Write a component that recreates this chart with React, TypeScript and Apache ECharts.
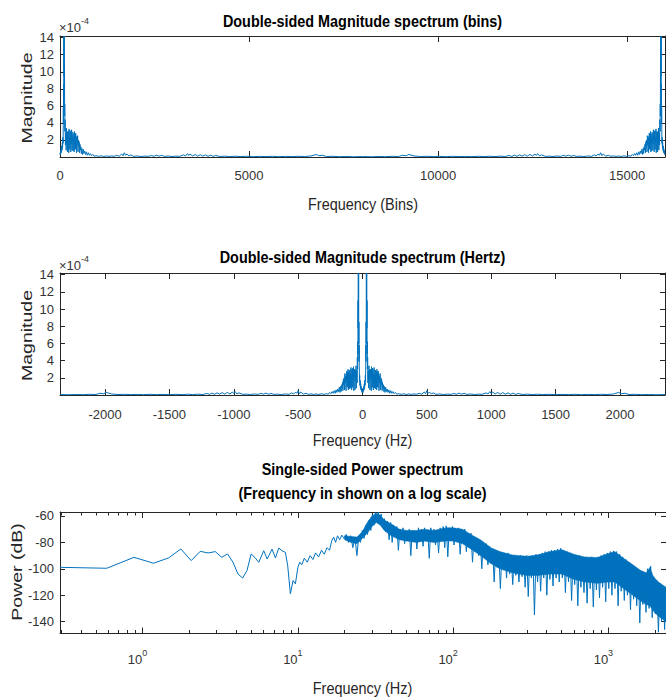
import React, { useEffect, useRef } from "react";
import * as echarts from "echarts";

// ---- acquisition parameters ----
const FS = 4700; // sampling rate, Hz
const NFFT = 16000; // number of bins
const DF = FS / NFFT; // bin width, Hz

// ---- single-sided magnitude profile: [frequency Hz, magnitude x1e-4] ----
const magPoints: [number, number][] = [
  [0, 0.25], [2, 0.5], [4, 0.3], [6, 0.8], [8, 0.45], [10, 1.0], [12, 0.6], [14, 1.3], [16, 0.8], [18, 1.7],
  [20, 1.1], [22, 2.3], [24, 1.6], [25, 3.4], [26, 5.8], [27, 3.9], [28, 8.5], [29, 6.0], [30, 14.2], [31, 9.5],
  [32, 13.6], [33, 14.2], [34, 7.8], [35, 11.0], [36, 4.8], [37, 6.2], [38, 3.0], [40, 4.4], [42, 1.4], [44, 2.8],
  [46, 1.9], [48, 0.8], [50, 3.4], [52, 1.6], [54, 2.2], [56, 2.9], [58, 0.6], [60, 3.0], [62, 2.1], [64, 2.9],
  [66, 1.2], [68, 0.5], [70, 3.3], [72, 1.8], [74, 2.2], [76, 0.9], [78, 3.1], [80, 2.0], [82, 3.0], [84, 0.6],
  [86, 2.4], [88, 1.5], [90, 3.2], [92, 2.6], [94, 0.8], [96, 2.3], [98, 1.9], [100, 2.9], [102, 0.7], [104, 2.1],
  [106, 1.6], [108, 2.7], [110, 0.6], [112, 3.0], [114, 2.2], [116, 1.0], [118, 2.6], [120, 0.9], [122, 2.8], [124, 1.8],
  [126, 2.4], [128, 0.5], [131, 2.2], [134, 1.4], [137, 2.5], [140, 0.6], [143, 2.0], [146, 1.2], [149, 1.8], [152, 0.5],
  [155, 1.5], [158, 0.8], [162, 1.2], [166, 0.4], [170, 1.0], [175, 0.3], [180, 0.9], [186, 0.4], [192, 0.7], [198, 0.3],
  [205, 0.6], [212, 0.2], [220, 0.5], [228, 0.2], [236, 0.4], [245, 0.15], [255, 0.3], [265, 0.1], [280, 0.15], [300, 0.08],
  [320, 0.14], [340, 0.06], [360, 0.12], [380, 0.07], [400, 0.13], [420, 0.08], [440, 0.2], [460, 0.1], [480, 0.35], [490, 0.15],
  [500, 0.5], [510, 0.2], [520, 0.35], [535, 0.12], [550, 0.25], [570, 0.08], [600, 0.12], [630, 0.06], [660, 0.1], [690, 0.08],
  [710, 0.18], [730, 0.08], [750, 0.22], [770, 0.1], [790, 0.2], [810, 0.07], [840, 0.12], [870, 0.06], [900, 0.1], [930, 0.08],
  [960, 0.25], [975, 0.12], [990, 0.4], [1000, 0.18], [1010, 0.35], [1030, 0.12], [1050, 0.3], [1070, 0.1], [1090, 0.28], [1110, 0.1],
  [1130, 0.25], [1150, 0.08], [1170, 0.22], [1190, 0.07], [1210, 0.18], [1240, 0.06], [1280, 0.1], [1320, 0.05], [1360, 0.09], [1400, 0.05],
  [1450, 0.08], [1500, 0.04], [1550, 0.07], [1600, 0.05], [1650, 0.08], [1700, 0.04], [1750, 0.07], [1800, 0.05], [1850, 0.08], [1900, 0.06],
  [1950, 0.12], [1990, 0.3], [2010, 0.15], [2040, 0.2], [2070, 0.06], [2120, 0.08], [2170, 0.04], [2220, 0.06], [2280, 0.03], [2350, 0.05],
];

// ---- single-sided power spectrum: [frequency Hz, power dB] ----
const powerPoints: [number, number][] = [
  [0.294, -98.9], [0.588, -99.6], [0.881, -91.3], [1.175, -95.8], [1.469, -91.8], [1.763, -85.0], [2.056, -93.8], [2.35, -86.8],
  [2.644, -88.0], [2.938, -87.0], [3.231, -91.3], [3.525, -88.8], [3.819, -95.0], [4.113, -103.9], [4.406, -107.0], [4.7, -101.4],
  [5.0, -88.8], [5.3, -91.5], [5.6, -95.1], [6.03, -86.3], [6.34, -92.6], [6.82, -85.1], [7.17, -91.8], [7.53, -84.3],
  [7.91, -86.3], [8.31, -87.6], [8.6, -97.6], [8.95, -118.9], [9.31, -108.9], [9.64, -111.4], [10.0, -98.9], [10.3, -95],
  [10.6, -97], [11.0, -92], [11.5, -95], [12.0, -90], [12.5, -93], [13.0, -88], [13.6, -91], [14.2, -86],
  [14.8, -89], [15.4, -84], [16.0, -86], [16.5, -79], [17.0, -76], [17.5, -80],
  [18, -75], [18.6, -78], [19.2, -74.5], [19.8, -77], [20.5, -74], [21.2, -80], [21.9, -75], [22.6, -84], [23.3, -76], [24.0, -90],
  [24.6, -77], [25.3, -80], [26.0, -71], [26.7, -77], [27.4, -67], [28.1, -74], [28.8, -63], [29.5, -71], [30.2, -59], [30.9, -67],
  [31.6, -57.5], [32.3, -64], [33.0, -57], [33.7, -66], [34.4, -58.5], [35.2, -69], [36.0, -62], [36.9, -72], [37.8, -64], [38.7, -78],
  [39.6, -65], [40.5, -80], [41.4, -67], [42.4, -74], [43.4, -68], [44.4, -86], [45.4, -70], [46.5, -77], [47.6, -69], [48.7, -81],
  [49.8, -71], [51, -76], [52.2, -70], [53.4, -90], [54.6, -71], [55.9, -79], [57.2, -72], [58.4, -85], [59.8, -69], [61.2, -77],
  [62.6, -70], [64, -83], [65.5, -69], [67, -79], [68.6, -71], [70.2, -92], [71.8, -69], [73.5, -77], [75.2, -70], [77, -82],
  [78.8, -72], [80.6, -88], [82.5, -69], [84.4, -78], [86.3, -68], [88.3, -84], [90.3, -67.5], [92.4, -91], [94.6, -69], [96.8, -78],
  [99, -68], [101.3, -82], [103.6, -70], [106, -77], [108.5, -69], [111, -89], [113.6, -71], [116.2, -79], [118.9, -70], [121.7, -87],
  [124.5, -73], [127.4, -81], [130.3, -73], [133.3, -95], [136.4, -76], [139.6, -86], [142.8, -77], [146.1, -90], [149.5, -79], [153, -100],
  [156.5, -80], [160.1, -92], [163.8, -81], [167.6, -97], [171.5, -83], [175.5, -96], [179.6, -85], [183.8, -110], [188, -86], [192.4, -99],
  [196.9, -87], [201.5, -115], [206.2, -88], [211, -101], [215.9, -89], [220.9, -107], [226, -88], [231.2, -104], [236.6, -90], [242.1, -112],
  [247.7, -90], [253.5, -105], [259.4, -91], [265.4, -110], [271.6, -90], [277.9, -106], [284.4, -91], [291, -114], [297.8, -90], [304.7, -121],
  [311.8, -91], [319, -107], [326.4, -90], [334, -135], [341.8, -89], [349.7, -110], [357.8, -89], [366.1, -117], [374.6, -88], [383.3, -107],
  [392.2, -87], [401.3, -120], [410.6, -87], [420.1, -108], [429.9, -86], [439.9, -113], [450.1, -86], [460.6, -107], [471.3, -85], [482.2, -110],
  [493.4, -84.5], [504.9, -107], [516.6, -86], [528.6, -118], [540.9, -87], [553.5, -110], [566.4, -88], [579.5, -124], [593, -89], [606.8, -112],
  [620.9, -90], [635.3, -128], [650.1, -90], [665.2, -114], [680.7, -91], [696.5, -118], [712.7, -91], [729.3, -126], [746.2, -92], [763.6, -115],
  [781.3, -91], [799.5, -129], [818.1, -92], [837.1, -116], [856.6, -91], [876.5, -122], [896.9, -90], [917.7, -114], [939.1, -89], [960.9, -125],
  [983.3, -88], [1006, -115], [1030, -87], [1054, -120], [1078, -86.5], [1103, -115], [1129, -87], [1155, -128], [1182, -89], [1209, -117],
  [1237, -91], [1266, -124], [1296, -93], [1326, -120], [1357, -95], [1388, -131], [1420, -97], [1453, -123], [1487, -99], [1522, -128],
  [1557, -101], [1593, -141], [1630, -102], [1668, -127], [1707, -103], [1747, -133], [1788, -100], [1829, -130], [1872, -98], [1915, -137],
  [1960, -106], [2006, -134], [2052, -109], [2100, -148], [2149, -111], [2199, -140], [2250, -113], [2302, -146], [2350, -114],
];

// ---- dense noise band of the power spectrum: [frequency Hz, upper dB, lower dB] ----
const bandPoints: [number, number, number][] = [
  [20, -75, -78], [22, -75.5, -80], [24, -76, -81], [26, -72, -77], [28, -65, -73], [30, -60, -68], [32, -58, -65],
  [34, -59.5, -67], [36, -63, -71], [40, -66, -75], [45, -70, -78], [50, -71, -79], [58, -71, -80], [65, -70, -79],
  [75, -71, -80], [90, -69, -79], [100, -69, -79], [115, -70, -81], [130, -74, -85], [150, -78, -90], [175, -84, -96],
  [200, -87, -100], [240, -89.5, -103], [300, -90.5, -105], [350, -89.5, -105], [420, -87, -104], [500, -85.5, -104],
  [600, -89, -108], [700, -91, -110], [850, -91.5, -111], [1000, -88.5, -110], [1100, -87, -110], [1250, -92, -115],
  [1400, -96, -119], [1600, -101, -124], [1750, -103, -127], [1850, -99, -128], [1950, -106, -132], [2100, -110, -136],
  [2350, -114, -140],
];

// ---- tick values ----
const binTicks = [0, 5000, 10000, 15000];
const hzTicks = [-2000, -1500, -1000, -500, 0, 500, 1000, 1500, 2000];
const magTicks = [2, 4, 6, 8, 10, 12, 14];
const dbTicks = [-140, -120, -100, -80, -60];
const decadeTicks = [0, 1, 2, 3];
const minorMultipliers = [2, 3, 4, 5, 6, 7, 8, 9];

const MAG_MAX = 14.2;
const DB_MIN = -149;
const DB_MAX = -57;

const FONT = "'Liberation Sans', Arial, Helvetica, sans-serif";
const AX = "#262626";
const LBL = "#333333";
const BLUE = "#0072BD";

const LMIN = Math.log10(DF);
const LMAX = Math.log10(FS / 2);

const minorTicks: number[] = [];
[-1, 0, 1, 2, 3].forEach((d) =>
  minorMultipliers.forEach((m) => {
    const v = Math.log10(m) + d;
    if (v > LMIN && v < LMAX) minorTicks.push(v);
  })
);

// double-sided tables built from the single-sided profile
const binsData: [number, number][] = [];
magPoints.forEach(([f, v]) => binsData.push([f / DF, v]));
for (let i = magPoints.length - 1; i >= 1; i--) binsData.push([NFFT - magPoints[i][0] / DF, magPoints[i][1]]);

const hzData: [number, number][] = [];
for (let i = magPoints.length - 1; i >= 1; i--) hzData.push([-magPoints[i][0], magPoints[i][1]]);
magPoints.forEach(([f, v]) => hzData.push([f, v]));

function axisBase(gridIndex: number, position: string, min: number, max: number, ticks: number[], tickLen: number, showLine: boolean) {
  return {
    type: "value",
    gridIndex,
    position,
    min,
    max,
    axisLine: { show: showLine, onZero: false, lineStyle: { color: AX, width: 1 } },
    axisTick: { show: true, inside: true, length: tickLen, customValues: ticks, lineStyle: { color: AX, width: 1 } },
    axisLabel: { show: false },
    splitLine: { show: false },
    minorTick: { show: false },
    minorSplitLine: { show: false },
  } as any;
}

function withLabels(axis: any, labels: number[], margin: number, extra: any = {}) {
  return {
    ...axis,
    axisLabel: { show: true, customValues: labels, margin, color: LBL, fontFamily: FONT, fontSize: 13, ...extra },
  };
}

const plain = (v: number) => String(v);

function txt(text: string, x: number, y: number, size: number, opts: any = {}) {
  return {
    type: "text",
    x,
    y,
    silent: true,
    rotation: opts.rotation || 0,
    scaleX: opts.scaleX || 1,
    scaleY: opts.scaleY || 1,
    style: {
      text,
      fontFamily: FONT,
      fontSize: size,
      fontWeight: opts.bold ? "bold" : "normal",
      fill: opts.color || AX,
      align: opts.align || "center",
      verticalAlign: "middle",
      rich: opts.rich,
    },
  };
}

const expRich = {
  a: { fontSize: 13, fill: LBL, fontFamily: FONT },
  b: { fontSize: 9, fill: LBL, fontFamily: FONT, padding: [0, 0, 12, 0] },
};

export default function App() {
  const ref = useRef<HTMLDivElement>(null);
  useEffect(() => {
    const chart = echarts.init(ref.current!, null, { renderer: "svg" });
    const option: any = {
      animation: false,
      backgroundColor: "#ffffff",
      grid: [
        { left: 60, top: 36, width: 605, height: 121, outerBoundsMode: "none" },
        { left: 60, top: 273, width: 605, height: 122, outerBoundsMode: "none" },
        { left: 60, top: 512, width: 606, height: 121.5, outerBoundsMode: "none" },
      ],
      xAxis: [
        withLabels(axisBase(0, "bottom", 0, NFFT, binTicks, 6, true), binTicks, 12, { formatter: plain }),
        axisBase(0, "top", 0, NFFT, binTicks, 6, true),
        withLabels(axisBase(1, "bottom", -FS / 2, FS / 2, hzTicks, 6, true), hzTicks, 13, { formatter: plain }),
        axisBase(1, "top", -FS / 2, FS / 2, hzTicks, 6, true),
        {
          type: "log",
          logBase: 10,
          gridIndex: 2,
          position: "bottom",
          min: DF,
          max: FS / 2,
          axisLine: { show: true, onZero: false, lineStyle: { color: AX, width: 1 } },
          axisTick: { show: false },
          axisLabel: { show: false },
          splitLine: { show: false },
          minorTick: { show: false },
        },
        withLabels(axisBase(2, "bottom", LMIN, LMAX, decadeTicks, 6, false), decadeTicks, 15, {
          formatter: (v: number) => `{b|10}{s|${Math.round(v)}}`,
          rich: {
            b: { fontSize: 13, color: LBL, fontFamily: FONT },
            s: { fontSize: 9, color: LBL, fontFamily: FONT, padding: [0, 10, 13, 0] },
          },
        }),
        axisBase(2, "bottom", LMIN, LMAX, minorTicks, 3.5, false),
        axisBase(2, "top", LMIN, LMAX, decadeTicks, 6, true),
        axisBase(2, "top", LMIN, LMAX, minorTicks, 3.5, false),
      ],
      yAxis: [
        withLabels(axisBase(0, "left", 0, MAG_MAX, magTicks, 5, true), magTicks, 6),
        axisBase(0, "right", 0, MAG_MAX, magTicks, 5, true),
        withLabels(axisBase(1, "left", 0, MAG_MAX, magTicks, 5, true), magTicks, 6),
        axisBase(1, "right", 0, MAG_MAX, magTicks, 5, true),
        withLabels(axisBase(2, "left", DB_MIN, DB_MAX, dbTicks, 5, true), dbTicks, 6),
        axisBase(2, "right", DB_MIN, DB_MAX, dbTicks, 5, true),
      ],
      series: [
        {
          type: "line",
          xAxisIndex: 0,
          yAxisIndex: 0,
          data: binsData,
          symbol: "none",
          showSymbol: false,
          silent: true,
          clip: true,
          lineStyle: { color: BLUE, width: 1 },
        },
        {
          type: "line",
          xAxisIndex: 2,
          yAxisIndex: 2,
          data: hzData,
          symbol: "none",
          showSymbol: false,
          silent: true,
          clip: true,
          lineStyle: { color: BLUE, width: 1 },
        },
        {
          type: "custom",
          xAxisIndex: 4,
          yAxisIndex: 4,
          data: bandPoints,
          encode: { x: 0, y: [1, 2] },
          silent: true,
          clip: true,
          renderItem: (params: any, api: any) => {
            if (params.dataIndex !== 0) return { type: "group", children: [] };
            const upper = bandPoints.map((p) => api.coord([p[0], p[1]]));
            const lower = bandPoints
              .slice()
              .reverse()
              .map((p) => api.coord([p[0], p[2]]));
            return {
              type: "polygon",
              shape: { points: upper.concat(lower) },
              style: { fill: BLUE, stroke: BLUE, lineWidth: 0.5 },
            };
          },
        },
        {
          type: "line",
          xAxisIndex: 4,
          yAxisIndex: 4,
          data: powerPoints,
          symbol: "none",
          showSymbol: false,
          silent: true,
          clip: true,
          lineStyle: { color: BLUE, width: 1 },
        },
      ],
      graphic: [
        txt("Double-sided Magnitude spectrum (bins)", 362.5, 21, 16, { bold: true, color: "#000", scaleX: 0.9 }),
        txt("Double-sided Magnitude spectrum (Hertz)", 362.5, 257.5, 16, { bold: true, color: "#000", scaleX: 0.9 }),
        txt("Single-sided Power spectrum", 362.5, 469, 16, { bold: true, color: "#000", scaleX: 0.9 }),
        txt("(Frequency in shown on a log scale)", 362.5, 493, 16, { bold: true, color: "#000", scaleX: 0.9 }),
        txt("Frequency (Bins)", 363, 204, 17, { scaleX: 0.85 }),
        txt("Frequency (Hz)", 362.5, 440, 17, { scaleX: 0.85 }),
        txt("Frequency (Hz)", 362.5, 688, 17, { scaleX: 0.85 }),
        txt("Magnitude", 27, 98, 19.5, { rotation: Math.PI / 2, scaleY: 0.75 }),
        txt("Magnitude", 27, 335.5, 19.5, { rotation: Math.PI / 2, scaleY: 0.75 }),
        txt("Power (dB)", 17, 572, 19.5, { rotation: Math.PI / 2, scaleY: 0.75 }),
        txt("{a|×10}{b|-4}", 59, 27, 13, { align: "left", rich: expRich, color: LBL }),
        txt("{a|×10}{b|-4}", 59, 265, 13, { align: "left", rich: expRich, color: LBL }),
      ],
    };
    chart.setOption(option);
    return () => chart.dispose();
  }, []);
  return (
    <div
      ref={ref}
      style={{ position: "absolute", left: 0, top: 0, width: 666, height: 700, background: "#fff" }}
    />
  );
}
